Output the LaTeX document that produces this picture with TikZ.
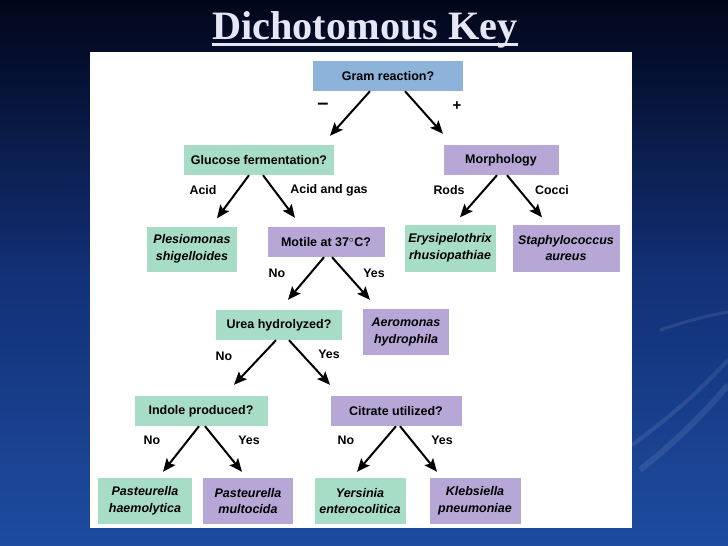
\documentclass[tikz,border=0pt]{standalone}
\usepackage{fontspec}
\setmainfont{Liberation Serif}
\newfontfamily\keysans{Liberation Sans}
\usetikzlibrary{arrows.meta,calc}
\definecolor{kblue}{HTML}{8DB3DA}
\definecolor{kgreen}{HTML}{A7DCC7}
\definecolor{kpurple}{HTML}{B6A7D6}
\definecolor{titlecol}{HTML}{E6E6F6}
\tikzset{
  box/.style={inner sep=0pt, align=center, font=\keysans\fontsize{12.5}{16}\selectfont\bfseries},
  bluebox/.style={box, fill=kblue},
  greenbox/.style={box, fill=kgreen},
  purplebox/.style={box, fill=kpurple},
  taxon/.style={font=\keysans\fontsize{12.5}{16.5}\selectfont\bfseries\itshape},
  lbl/.style={inner sep=0pt, font=\keysans\fontsize{12.4}{14}\selectfont\bfseries},
  arr/.style={line width=2pt, -{Stealth[length=13pt,width=11pt,inset=2.5pt]}},
}
\begin{document}
\begin{tikzpicture}[x=1pt,y=-1pt]
\useasboundingbox (0,0) rectangle (728,546);
% background
\shade[top color={rgb,255:red,1;green,6;blue,26}, bottom color={rgb,255:red,30;green,76;blue,160}, middle color={rgb,255:red,18;green,48;blue,118}] (0,0) rectangle (728,546);
\begin{scope}[opacity=0.09]
\draw[white, line width=6pt] (640,470) .. controls (690,430) and (715,400) .. (728,385);
\draw[white, line width=4pt] (632,445) .. controls (680,410) and (710,380) .. (728,360);
\draw[white, line width=3pt] (660,330) .. controls (690,320) and (710,315) .. (728,312);
\end{scope}
% title
\node[font=\fontsize{40.3}{42}\selectfont\bfseries, text=titlecol, inner sep=0pt, anchor=base] (title) at (365,39.5) {Dichotomous Key};
\draw[titlecol, line width=2.2pt] (title.west |- 0,44.5) -- (title.east |- 0,44.5);
% panel
\fill[white] (90,52) rectangle (632,528);
% nodes
\node[bluebox, minimum width=150pt, minimum height=30pt] (gram) at (388,76) {Gram reaction?};
\node[greenbox, minimum width=150pt, minimum height=30pt] (gluc) at (259,160) {Glucose fermentation?};
\node[purplebox, minimum width=115pt, minimum height=30pt] (morph) at (501,160) {Morphology};
\node[greenbox, taxon, minimum width=90pt, minimum height=45pt] (ples) at (192,249) {Plesiomonas\\shigelloides};
\node[purplebox, minimum width=117pt, minimum height=30pt] (motile) at (326,242) {Motile at 37$^\circ$C?};
\node[greenbox, taxon, minimum width=91pt, minimum height=47pt] (erys) at (450,248) {Erysipelothrix\\rhusiopathiae};
\node[purplebox, taxon, minimum width=107pt, minimum height=47pt] (staph) at (566,248) {Staphylococcus\\aureus};
\node[greenbox, minimum width=126pt, minimum height=30pt] (urea) at (279,325) {Urea hydrolyzed?};
\node[purplebox, taxon, minimum width=86pt, minimum height=46pt] (aero) at (406,332) {Aeromonas\\hydrophila};
\node[greenbox, minimum width=133pt, minimum height=30pt] (indole) at (201,411) {Indole produced?};
\node[purplebox, minimum width=131pt, minimum height=30pt] (citrate) at (396,411) {Citrate utilized?};
\node[greenbox, taxon, minimum width=94pt, minimum height=46pt] (ph) at (145,501) {Pasteurella\\haemolytica};
\node[purplebox, taxon, minimum width=90pt, minimum height=46pt] (pm) at (248,501) {Pasteurella\\multocida};
\node[greenbox, taxon, minimum width=91pt, minimum height=46pt] (ye) at (360,501) {Yersinia\\enterocolitica};
\node[purplebox, taxon, minimum width=91pt, minimum height=46pt] (kp) at (475,501) {Klebsiella\\pneumoniae};
% connectors
\draw[arr] ($(gram.south)+(-18,0)$) -- ($(gluc.north)+(71,-9)$);
\draw[arr] ($(gram.south)+(17,0)$) -- ($(morph.north)+(-58,-11)$);
\draw[arr] ($(gluc.south)+(-10,0)$) -- ($(ples.north)+(25,-8)$);
\draw[arr] ($(gluc.south)+(4,0)$) -- ($(motile.north)+(-31,-9)$);
\draw[arr] ($(morph.south)+(-4,0)$) -- ($(erys.north)+(10,-7)$);
\draw[arr] ($(morph.south)+(6,0)$) -- ($(staph.north)+(-24,-7)$);
\draw[arr] ($(motile.south)+(-2,0)$) -- ($(urea.north)+(9,-10)$);
\draw[arr] ($(motile.south)+(6,0)$) -- ($(aero.north)+(-36,-9)$);
\draw[arr] ($(urea.south)+(-3,0)$) -- ($(indole.north)+(33,-11)$);
\draw[arr] ($(urea.south)+(10,0)$) -- ($(citrate.north)+(-66,-11)$);
\draw[arr] ($(indole.south)+(-2,0)$) -- ($(ph.north)+(18,-6)$);
\draw[arr] ($(indole.south)+(4,0)$) -- ($(pm.north)+(-6,-6)$);
\draw[arr] ($(citrate.south)+(0,0)$) -- ($(ye.north)+(-3,-6)$);
\draw[arr] ($(citrate.south)+(4,0)$) -- ($(kp.north)+(-38,-6)$);
% labels
\node[lbl] (lminus) at (323,106) {\fontsize{20}{20}\selectfont –};
\node[lbl] (lplus) at (457,106) {\fontsize{15}{15}\selectfont +};
\node[lbl] (lacid) at (203,190) {Acid};
\node[lbl] (lacidgas) at (329,190) {Acid and gas};
\node[lbl] (lrods) at (449,190) {Rods};
\node[lbl] (lcocci) at (552,190) {Cocci};
\node[lbl] (lmno) at (277,273) {No};
\node[lbl] (lmyes) at (374,273) {Yes};
\node[lbl] (luno) at (224,356) {No};
\node[lbl] (luyes) at (329,354) {Yes};
\node[lbl] (lino) at (152,440) {No};
\node[lbl] (liyes) at (249,440) {Yes};
\node[lbl] (lcno) at (346,440) {No};
\node[lbl] (lcyes) at (442,440) {Yes};
\end{tikzpicture}
\end{document}
